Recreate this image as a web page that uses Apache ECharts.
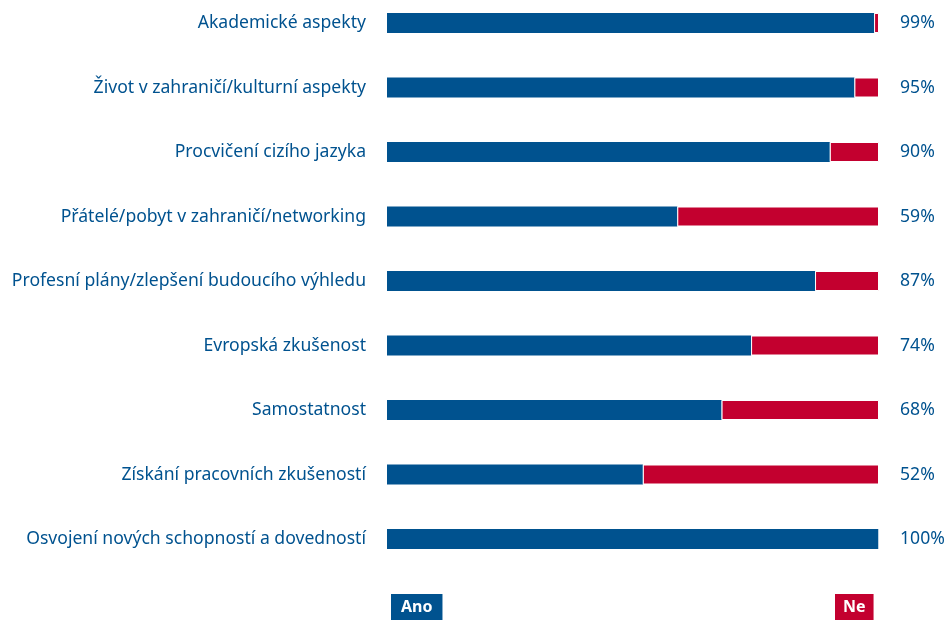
<!DOCTYPE html>
<html>
<head>
<meta charset="utf-8">
<script src="https://cdn.jsdelivr.net/npm/echarts@6/dist/echarts.min.js"></script>
<style>
  html, body { margin: 0; padding: 0; background: #fff; }
  #chart { width: 949px; height: 620px; }
</style>
</head>
<body>
<div id="chart"></div>
<script>
const categories = [
  'Akademické aspekty',
  'Život v zahraničí/kulturní aspekty',
  'Procvičení cizího jazyka',
  'Přátelé/pobyt v zahraničí/networking',
  'Profesní plány/zlepšení budoucího výhledu',
  'Evropská zkušenost',
  'Samostatnost',
  'Získání pracovních zkušeností',
  'Osvojení nových schopností a dovedností'
]
const anoValues = [99, 95, 90, 59, 87, 74, 68, 52, 100]
const neValues = [1, 5, 10, 41, 13, 26, 32, 48, 0]
const percentLabels = ['99%', '95%', '90%', '59%', '87%', '74%', '68%', '52%', '100%']

const BLUE = '#00528f'
const RED = '#c3002f'
const FONT = '"Noto Sans", sans-serif'

const chart = echarts.init(document.getElementById('chart'))
chart.setOption({
  animation: false,
  textStyle: { fontFamily: FONT },
  grid: { left: 387, right: 70, top: 23, bottom: 81 },
  xAxis: {
    type: 'value',
    min: 0,
    max: 100,
    show: false
  },
  yAxis: [
    {
      type: 'category',
      data: categories,
      inverse: true,
      boundaryGap: false,
      axisLine: { show: false },
      axisTick: { show: false },
      splitLine: { show: false },
      axisLabel: { color: BLUE, fontSize: 17.6, margin: 21, fontFamily: FONT }
    },
    {
      type: 'category',
      data: percentLabels,
      inverse: true,
      boundaryGap: false,
      position: 'right',
      axisLine: { show: false },
      axisTick: { show: false },
      splitLine: { show: false },
      axisLabel: { color: BLUE, fontSize: 17.6, margin: 21, fontFamily: FONT }
    }
  ],
  legend: [
    {
      left: 381,
      bottom: -5,
      data: ['Ano'],
      itemWidth: 0,
      itemHeight: 0,
      itemGap: 0,
      selectedMode: false,
      textStyle: {
        color: '#fff', fontWeight: 'bold', fontSize: 16, fontFamily: FONT,
        backgroundColor: BLUE, padding: [5, 10, 5, 10]
      }
    },
    {
      left: 824,
      bottom: -5,
      data: ['Ne'],
      itemWidth: 0,
      itemHeight: 0,
      itemGap: 0,
      selectedMode: false,
      textStyle: {
        color: '#fff', fontWeight: 'bold', fontSize: 16, fontFamily: FONT,
        backgroundColor: RED, padding: [5, 8, 5, 8]
      }
    }
  ],
  series: [
    {
      name: 'Ano',
      type: 'bar',
      stack: 'total',
      barWidth: 20,
      itemStyle: { color: BLUE },
      data: anoValues
    },
    {
      name: 'Ne',
      type: 'bar',
      stack: 'total',
      barWidth: 20,
      itemStyle: { color: RED, borderColor: '#fff', borderWidth: 1 },
      data: neValues
    }
  ]
})
</script>
</body>
</html>
